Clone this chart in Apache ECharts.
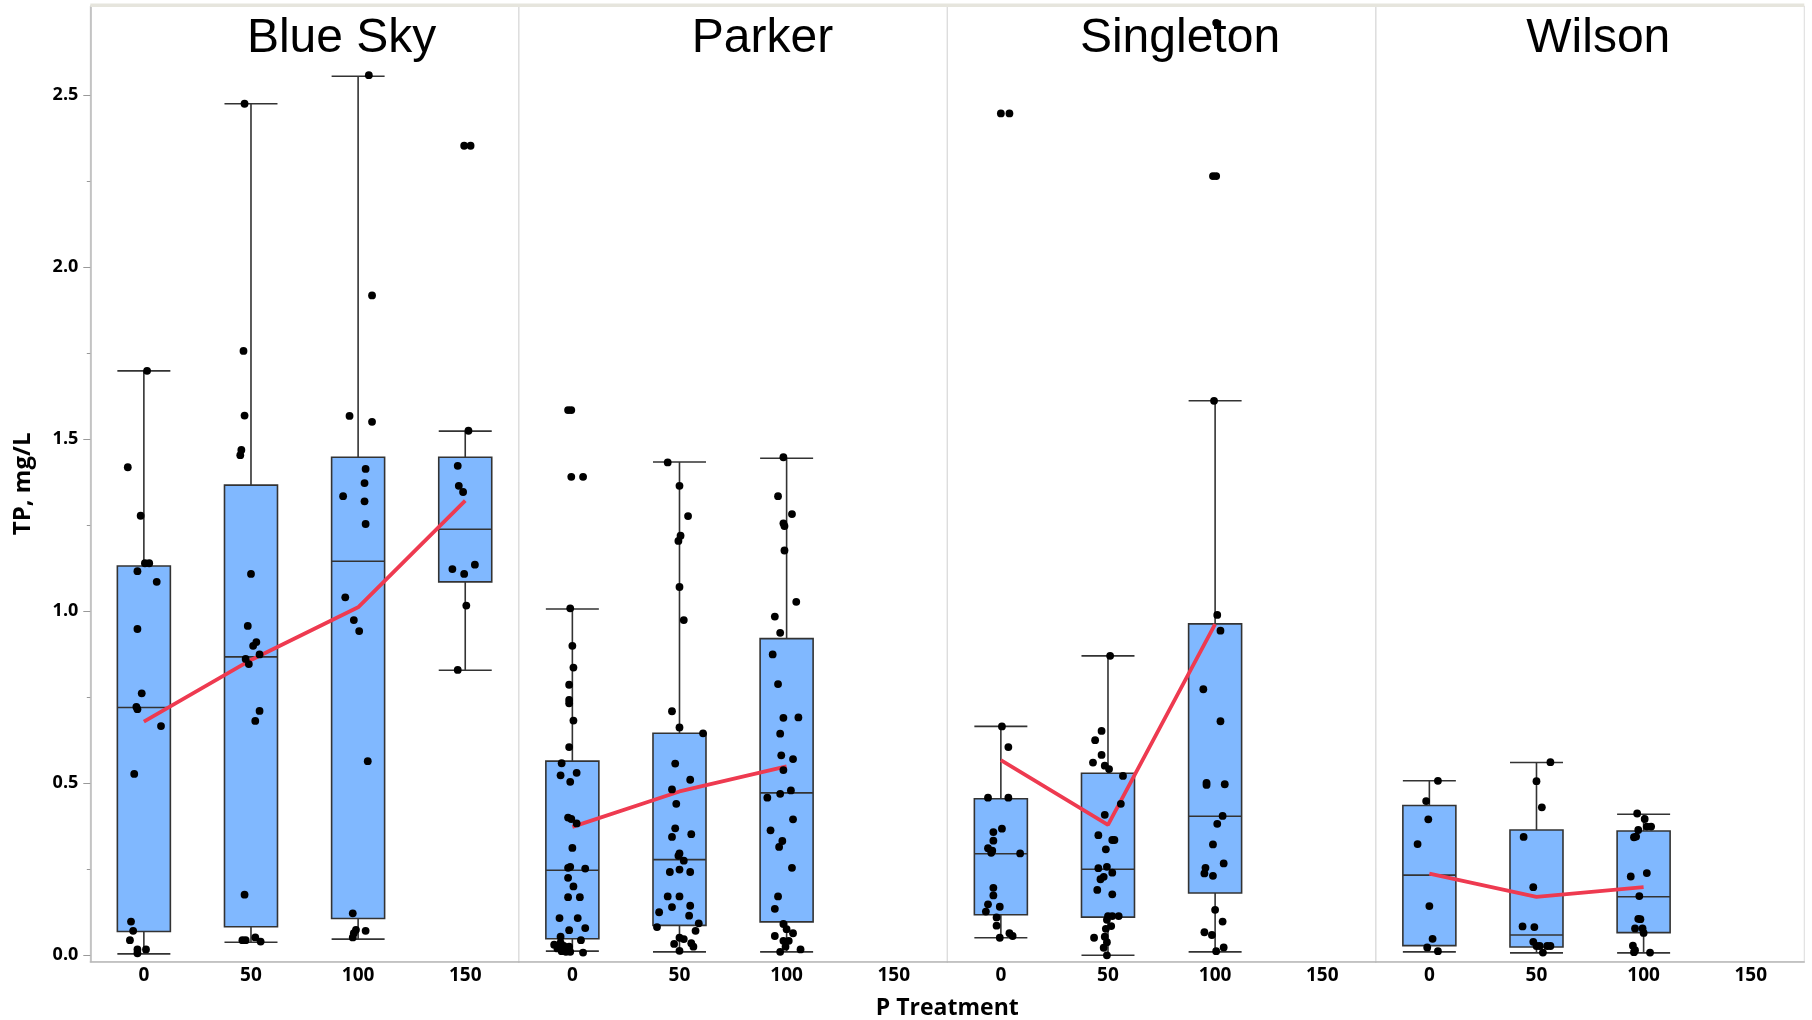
<!DOCTYPE html>
<html>
<head>
<meta charset="utf-8">
<title>TP by P Treatment and Site</title>
<script src="https://cdn.jsdelivr.net/npm/echarts@6/dist/echarts.min.js"></script>
<style>
  html, body { margin: 0; padding: 0; background: #ffffff; }
  #chart { width: 1812px; height: 1020px; }
</style>
</head>
<body>
<div id="chart"></div>
<script>
// ---- data ---------------------------------------------------------------
const sites = ['Blue Sky', 'Parker', 'Singleton', 'Wilson'];
const treatments = ['0', '50', '100', '150'];
const yTickLabels = [0, 0.5, 1.0, 1.5, 2.0, 2.5];
const yMinorTicks = [0.25, 0.75, 1.25, 1.75, 2.25];

// box statistics per treatment: [low whisker, Q1, median, Q3, high whisker]
const blueSkyBox = [
  [0.004, 0.069, 0.720, 1.131, 1.698],
  [0.038, 0.083, 0.867, 1.366, 2.474],
  [0.047, 0.107, 1.145, 1.447, 2.554],
  [0.828, 1.085, 1.238, 1.447, 1.523]
];
const parkerBox = [
  [0.012, 0.048, 0.247, 0.564, 1.006],
  [0.010, 0.087, 0.278, 0.645, 1.433],
  [0.010, 0.097, 0.472, 0.920, 1.444]
];
const singletonBox = [
  [0.051, 0.118, 0.295, 0.455, 0.665],
  [0.000, 0.111, 0.250, 0.529, 0.870],
  [0.010, 0.181, 0.404, 0.963, 1.611]
];
const wilsonBox = [
  [0.010, 0.028, 0.233, 0.435, 0.507],
  [0.007, 0.024, 0.059, 0.364, 0.560],
  [0.007, 0.066, 0.170, 0.361, 0.410]
];

// treatment means (connected line)
const blueSkyMean = [0.679, 0.858, 1.011, 1.321];
const parkerMean = [0.373, 0.476, 0.549];
const singletonMean = [0.567, 0.379, 0.962];
const wilsonMean = [0.237, 0.170, 0.198];

// individual samples, TP mg/L, one list per treatment
const blueSkyTP = [
  [1.698, 1.418, 1.277, 1.139, 1.139, 1.116, 1.085, 0.948, 0.761, 0.722, 0.715, 0.666, 0.527, 0.098, 0.071, 0.044, 0.017, 0.006, 0.017],
  [2.474, 1.756, 1.568, 1.468, 1.453, 1.108, 0.957, 0.910, 0.899, 0.874, 0.861, 0.846, 0.710, 0.681, 0.176, 0.044, 0.044, 0.052, 0.040],
  [2.557, 1.917, 1.567, 1.550, 1.413, 1.372, 1.334, 1.319, 1.253, 1.040, 0.974, 0.942, 0.564, 0.122, 0.074, 0.064, 0.052, 0.071],
  [2.352, 2.352, 1.524, 1.422, 1.364, 1.346, 1.135, 1.122, 1.108, 1.016, 0.829]
];
const parkerTP = [
  [1.584, 1.584, 1.390, 1.390, 1.008, 0.899, 0.836, 0.786, 0.742, 0.732, 0.682, 0.605, 0.558, 0.523, 0.530, 0.504, 0.400, 0.396, 0.383, 0.312, 0.257, 0.254, 0.252, 0.225, 0.200, 0.169, 0.169, 0.108, 0.108, 0.073, 0.079, 0.054, 0.044, 0.031, 0.037, 0.027, 0.025, 0.017, 0.012, 0.010, 0.010, 0.008, 0.020],
  [1.432, 1.364, 1.276, 1.219, 1.204, 1.070, 0.974, 0.709, 0.662, 0.645, 0.557, 0.510, 0.482, 0.440, 0.369, 0.344, 0.352, 0.296, 0.289, 0.275, 0.242, 0.249, 0.242, 0.171, 0.171, 0.140, 0.144, 0.125, 0.115, 0.082, 0.093, 0.071, 0.051, 0.047, 0.033, 0.035, 0.025, 0.013],
  [1.447, 1.334, 1.282, 1.255, 1.247, 1.176, 1.027, 0.984, 0.937, 0.874, 0.788, 0.690, 0.691, 0.644, 0.581, 0.570, 0.538, 0.479, 0.469, 0.458, 0.395, 0.363, 0.332, 0.315, 0.254, 0.171, 0.135, 0.091, 0.076, 0.064, 0.056, 0.042, 0.042, 0.025, 0.017, 0.010]
];
const singletonTP = [
  [2.446, 2.446, 0.665, 0.605, 0.458, 0.458, 0.368, 0.358, 0.333, 0.311, 0.304, 0.298, 0.296, 0.196, 0.174, 0.148, 0.141, 0.127, 0.110, 0.086, 0.051, 0.064, 0.056],
  [0.870, 0.652, 0.625, 0.582, 0.560, 0.551, 0.541, 0.521, 0.440, 0.408, 0.349, 0.335, 0.335, 0.308, 0.257, 0.253, 0.240, 0.228, 0.221, 0.190, 0.177, 0.114, 0.114, 0.114, 0.103, 0.085, 0.077, 0.051, 0.054, 0.038, 0.022, 0.000],
  [2.709, 2.264, 2.264, 1.611, 0.989, 0.943, 0.773, 0.680, 0.501, 0.495, 0.497, 0.405, 0.382, 0.322, 0.267, 0.254, 0.238, 0.231, 0.132, 0.098, 0.067, 0.059, 0.023, 0.012]
];
const wilsonTP = [
  [0.507, 0.448, 0.395, 0.323, 0.143, 0.048, 0.023, 0.012],
  [0.561, 0.506, 0.430, 0.344, 0.198, 0.084, 0.082, 0.039, 0.027, 0.027, 0.027, 0.027, 0.008],
  [0.412, 0.396, 0.374, 0.374, 0.364, 0.343, 0.345, 0.239, 0.229, 0.172, 0.106, 0.105, 0.078, 0.078, 0.065, 0.028, 0.015, 0.009, 0.008]
];

// horizontal jitter of each sample, in treatment-band units
const blueSkyJitter = [
  [0.03, -0.15, -0.03, 0.01, 0.05, -0.06, 0.12, -0.06, -0.02, -0.07, -0.06, 0.16, -0.09, -0.12, -0.10, -0.13, -0.06, -0.06, 0.02],
  [-0.06, -0.07, -0.06, -0.09, -0.10, 0.00, -0.03, 0.05, 0.02, 0.08, -0.05, -0.02, 0.08, 0.04, -0.06, -0.08, -0.05, 0.04, 0.09],
  [0.10, 0.13, -0.08, 0.13, 0.07, 0.06, -0.14, 0.06, 0.07, -0.12, -0.04, 0.01, 0.09, -0.05, -0.02, -0.04, -0.05, 0.07],
  [-0.01, 0.05, 0.03, -0.07, -0.06, -0.02, 0.09, -0.12, -0.01, 0.01, -0.07]
];
const parkerJitter = [
  [-0.04, -0.01, -0.01, 0.10, -0.02, 0.00, 0.01, -0.03, -0.03, -0.03, 0.01, -0.03, -0.10, -0.11, 0.04, -0.02, -0.04, -0.01, 0.04, 0.00, -0.02, -0.04, 0.12, -0.04, 0.01, -0.04, 0.07, -0.12, 0.05, -0.03, 0.12, -0.11, 0.08, -0.17, -0.11, -0.08, -0.03, -0.05, -0.10, -0.06, -0.02, 0.10, -0.14],
  [-0.11, 0.00, 0.08, 0.01, -0.01, 0.00, 0.04, -0.07, 0.00, 0.22, -0.04, 0.10, -0.07, -0.03, -0.04, -0.07, 0.11, 0.00, -0.01, 0.04, -0.09, 0.00, 0.10, -0.11, 0.00, -0.07, 0.10, -0.19, 0.09, -0.21, 0.18, 0.15, 0.00, 0.04, -0.05, 0.11, 0.13, 0.00],
  [-0.03, -0.08, 0.05, -0.03, -0.02, -0.02, 0.09, -0.11, -0.06, -0.13, -0.08, -0.03, 0.11, -0.06, -0.05, 0.06, -0.03, 0.04, -0.06, -0.18, 0.06, -0.15, -0.04, -0.07, 0.05, -0.08, -0.11, -0.03, 0.00, 0.06, -0.11, -0.03, 0.02, -0.01, 0.13, -0.06]
];
const singletonJitter = [
  [0.00, 0.08, 0.01, 0.07, -0.12, 0.07, 0.01, -0.07, -0.07, -0.12, -0.08, -0.09, 0.18, -0.07, -0.07, -0.12, -0.01, -0.14, -0.04, -0.04, -0.01, 0.08, 0.11],
  [0.02, -0.06, -0.12, -0.06, -0.14, -0.03, 0.01, 0.14, 0.12, -0.03, -0.09, 0.04, 0.06, -0.02, -0.01, -0.09, 0.04, -0.04, -0.07, -0.10, 0.04, 0.00, 0.04, 0.10, -0.01, 0.03, -0.02, -0.13, -0.03, -0.01, -0.04, -0.01],
  [0.01, -0.02, 0.01, -0.01, 0.02, 0.05, -0.11, 0.05, -0.08, -0.08, 0.09, 0.07, 0.02, -0.02, 0.08, -0.09, -0.10, -0.02, 0.00, 0.07, -0.10, -0.03, 0.08, 0.01]
];
const wilsonJitter = [
  [0.08, -0.03, -0.01, -0.11, 0.00, 0.03, -0.02, 0.08],
  [0.13, 0.00, 0.05, -0.12, -0.03, -0.13, -0.02, -0.03, 0.00, 0.03, 0.13, 0.10, 0.06],
  [-0.06, 0.01, 0.03, 0.07, -0.05, -0.09, -0.07, 0.03, -0.12, -0.04, -0.05, -0.03, -0.08, -0.01, 0.00, -0.10, -0.08, -0.09, 0.06]
];

const siteBoxes = [blueSkyBox, parkerBox, singletonBox, wilsonBox];
const siteMeans = [blueSkyMean, parkerMean, singletonMean, wilsonMean];
const siteTP = [blueSkyTP, parkerTP, singletonTP, wilsonTP];
const siteJitter = [blueSkyJitter, parkerJitter, singletonJitter, wilsonJitter];

// ---- layout & style -----------------------------------------------------
const PLOT_LEFT = 90.3;
const PANEL_W = 428.5;
const PLOT_TOP = 6;
const PLOT_BOTTOM = 961.7;
const Y_MIN = -0.0186;
const Y_MAX = 2.758;
const TITLE_X = [341.6, 762.5, 1180, 1598.3];

const BOX_FILL = '#80b8ff';
const BOX_EDGE = '#333333';
const MEAN_RED = '#ee3a50';
const FRAME = '#dcdcdc';
const AXIS_GRAY = '#b8b8b8';
const LABEL_FONT = '"Open Sans", "Noto Sans", sans-serif';

const chart = echarts.init(document.getElementById('chart'), null, { renderer: 'canvas' });

const grids = [], xAxes = [], yAxes = [], series = [];

sites.forEach((site, p) => {
  grids.push({
    left: PLOT_LEFT + p * PANEL_W,
    top: PLOT_TOP,
    width: PANEL_W,
    height: PLOT_BOTTOM - PLOT_TOP,
    show: true,
    borderColor: FRAME,
    borderWidth: 1,
    containLabel: false
  });
  // visible treatment axis
  xAxes.push({
    type: 'category',
    gridIndex: p,
    position: 'bottom',
    data: treatments,
    boundaryGap: true,
    axisLine: { show: true, onZero: false, lineStyle: { color: AXIS_GRAY, width: 1.5 } },
    axisTick: { show: false },
    axisLabel: {
      color: '#000', fontFamily: LABEL_FONT, fontWeight: 'bold', fontSize: 19,
      verticalAlign: 'middle', margin: 14
    },
    splitLine: { show: false }
  });
  yAxes.push({
    type: 'value',
    gridIndex: p,
    position: 'left',
    min: Y_MIN,
    max: Y_MAX,
    show: p === 0,
    axisLine: { show: p === 0, onZero: false, lineStyle: { color: AXIS_GRAY, width: 1.5 } },
    axisTick: { show: p === 0, length: 7, lineStyle: { color: '#999' }, customValues: yTickLabels },
    axisLabel: {
      show: p === 0, customValues: yTickLabels,
      color: '#000', fontFamily: LABEL_FONT, fontWeight: 'bold', fontSize: 18, margin: 12,
      formatter: v => v.toFixed(1)
    },
    splitLine: { show: false }
  });
});

// hidden continuous axes spanning the same bands, used for jittered samples and means
sites.forEach((site, p) => {
  xAxes.push({
    type: 'value', gridIndex: p, min: -0.5, max: 3.5, show: false,
    position: 'bottom',
    axisLine: { show: false, onZero: false },
    splitLine: { show: false }
  });
});

// minor ticks on the shared TP axis
yAxes.push({
  type: 'value', gridIndex: 0, min: Y_MIN, max: Y_MAX, position: 'left', offset: 0,
  axisLine: { show: false, onZero: false },
  axisTick: { show: true, length: 3.5, lineStyle: { color: '#999' }, customValues: yMinorTicks },
  axisLabel: { show: false, customValues: yMinorTicks },
  splitLine: { show: false }
});

sites.forEach((site, p) => {
  series.push({
    name: site + ' box',
    type: 'boxplot',
    xAxisIndex: p,
    yAxisIndex: p,
    boxWidth: [53, 53],
    itemStyle: { color: BOX_FILL, borderColor: BOX_EDGE, borderWidth: 1.6 },
    emphasis: { disabled: true },
    z: 2,
    data: siteBoxes[p]
  });
  series.push({
    name: site + ' mean',
    type: 'line',
    xAxisIndex: sites.length + p,
    yAxisIndex: p,
    showSymbol: false,
    symbol: 'none',
    lineStyle: { color: MEAN_RED, width: 3.8 },
    z: 3,
    silent: true,
    data: siteMeans[p].map((m, i) => [i, m])
  });
  const pts = [];
  siteTP[p].forEach((vals, i) => {
    vals.forEach((v, k) => pts.push([i + siteJitter[p][i][k], v]));
  });
  series.push({
    name: site + ' samples',
    type: 'scatter',
    xAxisIndex: sites.length + p,
    yAxisIndex: p,
    symbol: 'circle',
    symbolSize: 7.8,
    itemStyle: { color: '#000', opacity: 1 },
    z: 4,
    silent: true,
    data: pts
  });
});

const graphics = [
  // light band along the top of the frame
  {
    type: 'rect', silent: true, z: 10,
    shape: { x: PLOT_LEFT, y: PLOT_TOP - 2.5, width: PANEL_W * sites.length, height: 3.5 },
    style: { fill: '#e6e5dd' }
  },
  {
    type: 'text', silent: true,
    x: 23, y: (PLOT_TOP + PLOT_BOTTOM) / 2, rotation: Math.PI / 2,
    style: {
      text: 'TP, mg/L', fill: '#000', font: 'bold 24px ' + LABEL_FONT,
      textAlign: 'center', textVerticalAlign: 'middle'
    }
  },
  {
    type: 'text', silent: true,
    x: PLOT_LEFT + PANEL_W * sites.length / 2, y: 1008,
    style: {
      text: 'P Treatment', fill: '#000', font: 'bold 23px ' + LABEL_FONT,
      textAlign: 'center', textVerticalAlign: 'middle'
    }
  }
];
sites.forEach((site, p) => {
  graphics.push({
    type: 'text', silent: true, z: 11,
    x: TITLE_X[p], y: 38.5,
    style: {
      text: site, fill: '#000', font: '48px "Liberation Sans", Arial, sans-serif',
      textAlign: 'center', textVerticalAlign: 'middle'
    }
  });
});

chart.setOption({
  backgroundColor: '#ffffff',
  animation: false,
  grid: grids,
  xAxis: xAxes,
  yAxis: yAxes,
  series: series,
  graphic: graphics
});
</script>
</body>
</html>
